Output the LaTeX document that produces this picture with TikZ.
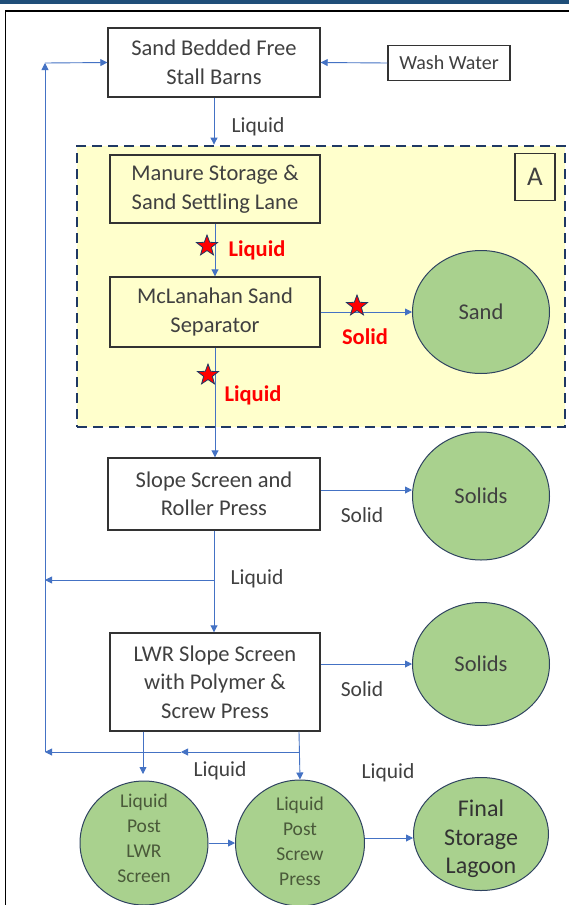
\documentclass[tikz,border=0pt]{standalone}
\usepackage{fontspec}
\setmainfont{Carlito}
\usetikzlibrary{shapes.geometric,arrows.meta}
\definecolor{flow}{HTML}{4472C4}
\definecolor{navy}{HTML}{1F3864}
\definecolor{topbar}{HTML}{1F4E79}
\definecolor{boxline}{HTML}{333333}
\definecolor{txt}{HTML}{404040}
\definecolor{circfill}{HTML}{A9D18E}
\definecolor{circline}{HTML}{2F4360}
\definecolor{zoneA}{HTML}{FFFFCC}
\definecolor{redlbl}{HTML}{FF0000}
\definecolor{circtxt}{HTML}{4A5A3A}
\tikzset{
  procbox/.style={draw=boxline,line width=1.4pt,rectangle,align=center,text=txt,font=\fontsize{22.5}{28.5}\selectfont,inner sep=0pt},
  outcirc/.style={ellipse,draw=circline,line width=1pt,fill=circfill,align=center,inner sep=0pt},
  flowarrow/.style={draw=flow,line width=0.9pt,-{Triangle[length=7pt,width=7pt]}},
  lbl/.style={text=txt,font=\fontsize{21.5}{24}\selectfont,inner sep=0pt},
  redl/.style={text=redlbl,font=\fontsize{22.5}{24}\selectfont\bfseries,inner sep=0pt},
  redstar/.style={star,star points=5,star point ratio=2.4,minimum size=22pt,inner sep=0pt,fill=red,draw=navy,line width=0.8pt},
  intext/.style={align=center,inner sep=0pt}
}
\begin{document}
\begin{tikzpicture}[x=1pt,y=-1pt]
\useasboundingbox (0,0) rectangle (569,905);
\fill[white] (0,0) rectangle (569,905);
% top bar and frame
\fill[topbar] (0,0) rectangle (569,3.5);
\draw[black,line width=1.8pt] (5.5,905) -- (5.5,11) -- (569,11);
% zone A
\node[draw=navy,fill=zoneA,line width=2.8pt,dash pattern=on 10pt off 6pt,minimum width=488pt,minimum height=281pt,inner sep=0pt] (zone) at (321,286.5) {};
\node[draw=boxline,line width=1.4pt,minimum width=40pt,minimum height=47pt,inner sep=0pt,text=txt,font=\fontsize{27}{28}\selectfont] (abox) at (535,177) {A};
% process boxes
\node[procbox,minimum width=212pt,minimum height=69pt] (barns) at (214,62.5) {Sand Bedded Free\\Stall Barns};
\node[procbox,minimum width=122pt,minimum height=35pt,font=\fontsize{20}{22}\selectfont] (wash) at (449,63) {Wash Water};
\node[procbox,minimum width=210pt,minimum height=68pt] (manure) at (215,189) {Manure Storage \&\\Sand Settling Lane};
\node[procbox,minimum width=210pt,minimum height=70pt] (mclan) at (215,312) {McLanahan Sand\\Separator};
\node[procbox,minimum width=212pt,minimum height=72pt] (slope) at (214,494) {Slope Screen and\\Roller Press};
\node[procbox,minimum width=210pt,minimum height=98pt] (lwr) at (215,682) {LWR Slope Screen\\with Polymer \&\\Screw Press};
% outcome circles
\node[outcirc,minimum width=137pt,minimum height=123pt,text=txt,font=\fontsize{22.5}{24}\selectfont] (sand) at (481,312) {Sand};
\node[outcirc,minimum width=137pt,minimum height=128pt,text=txt,font=\fontsize{22.5}{24}\selectfont] (solidsA) at (481,496) {Solids};
\node[outcirc,minimum width=137pt,minimum height=123pt,text=txt,font=\fontsize{22.5}{24}\selectfont] (solidsB) at (481,664) {Solids};
\node[outcirc,minimum width=128pt,minimum height=124pt] (c1) at (144,843) {};
\node[outcirc,minimum width=129pt,minimum height=126pt] (c2) at (300,843) {};
\node[outcirc,minimum width=135pt,minimum height=113pt] (c3) at (481,834) {};
\node[intext,text=circtxt,font=\fontsize{19.5}{25}\selectfont] (c1t) at (144,838) {Liquid\\Post\\LWR\\Screen};
\node[intext,text=circtxt,font=\fontsize{19.5}{25}\selectfont] (c2t) at (300,841) {Liquid\\Post\\Screw\\Press};
\node[intext,text=black!80,font=\fontsize{24}{28.5}\selectfont] (c3t) at (481,839) {Final\\Storage\\Lagoon};
% coordinates for the return line
\coordinate (retTop) at (45,63);
\coordinate (retMid) at (45,580);
\coordinate (retBot) at (45,752);
\coordinate (brMid) at (214,580);
\coordinate (bL) at (143,752);
\coordinate (bR) at (299,752);
\coordinate (bArr) at (181,752);
\coordinate (c1top) at (143,774);
% connectors
\draw[flowarrow] (wash.west) -- (barns.east);
\draw[flowarrow] (retBot) -- (retTop);
\draw[flowarrow] (retTop) -- (barns.west);
\draw[flowarrow] (barns.south) -- (barns.south |- zone.north);
\draw[flowarrow] (manure.south) -- (mclan.north);
\draw[flowarrow] (mclan.east) -- (sand.west);
\draw[flowarrow] (mclan.south) -- (mclan.south |- slope.north);
\draw[flowarrow] (slope.east |- 0,490) -- (solidsA.west |- 0,490);
\draw[flowarrow] (slope.south) -- (slope.south |- lwr.north);
\draw[flowarrow] (brMid) -- (retMid);
\draw[flowarrow] (lwr.east |- solidsB.west) -- (solidsB.west);
\draw[flowarrow] (lwr.south -| bL) -- (c1top);
\draw[flowarrow] (lwr.south -| bR) -- (c2.north);
\draw[flowarrow] (bR) -- (bArr);
\draw[flowarrow] (bArr) -- (retBot);
\draw[flowarrow] (c1.east) -- (c2.west);
\draw[flowarrow] (c2.east |- 0,838) -- (c3.west |- 0,838);
% labels
\node[lbl] (l1) at (258,127) {Liquid};
\node[redstar] (s1) at (207,246) {};
\node[redl] (r1) at (257,250) {Liquid};
\node[redstar] (s2) at (357,306) {};
\node[redl] (r2) at (365,337) {Solid};
\node[redstar] (s3) at (208,375) {};
\node[redl] (r3) at (253,395) {Liquid};
\node[lbl] (l2) at (362,515) {Solid};
\node[lbl] (l3) at (257,579) {Liquid};
\node[lbl] (l4) at (362,689) {Solid};
\node[lbl] (l5) at (220,771) {Liquid};
\node[lbl] (l6) at (388,773) {Liquid};
\end{tikzpicture}
\end{document}
